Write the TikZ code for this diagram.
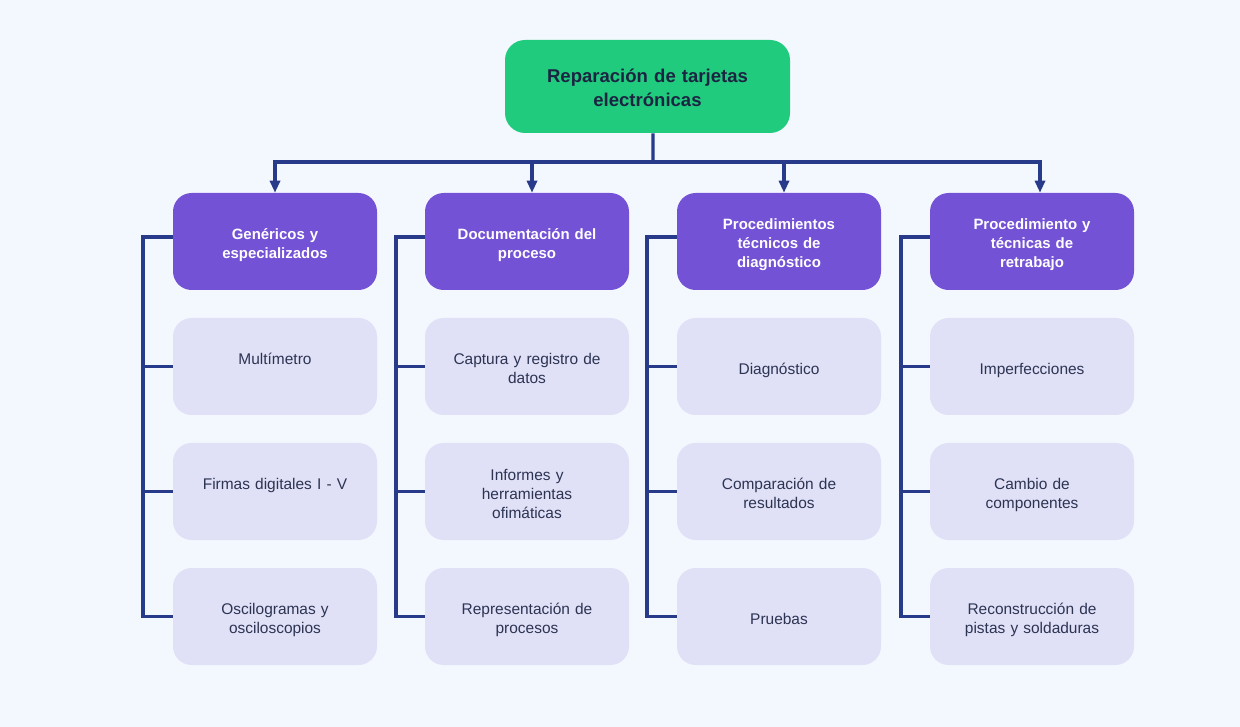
\documentclass[tikz,border=0pt]{standalone}
\usepackage{fontspec}
\setmainfont{Liberation Sans}
\usepackage{tikz}
\usetikzlibrary{arrows.meta, positioning}
\definecolor{bgcol}{HTML}{F3F7FE}
\definecolor{rootcol}{HTML}{21CB7E}
\definecolor{headcol}{HTML}{7452D6}
\definecolor{itemcol}{HTML}{E0E0F7}
\definecolor{linecol}{HTML}{283A8A}
\definecolor{darktext}{HTML}{1B2542}
\definecolor{itemtext}{HTML}{2C3452}

\begin{document}
\begin{tikzpicture}[x=0.75pt, y=-0.75pt,
  rootbox/.style={fill=rootcol, rounded corners=15pt, minimum width=213.75pt, minimum height=69.75pt,
    text width=200pt, align=center, text=darktext, font=\fontsize{13.9pt}{18pt}\selectfont\bfseries,
    execute at begin node={\rule{0pt}{15pt}}, execute at end node={\rule[-3.2pt]{0pt}{3.2pt}}},
  headbox/.style={fill=headcol, rounded corners=14pt, minimum width=153pt, minimum height=72.75pt,
    text width=140pt, align=center, text=white, font=\fontsize{11.2pt}{14.25pt}\selectfont\bfseries,
    execute at begin node={\rule{0pt}{13.5pt}}, execute at end node={\rule[-2.7pt]{0pt}{2.7pt}}},
  itembox/.style={fill=itemcol, rounded corners=14pt, minimum width=153pt, minimum height=72.75pt,
    text width=140pt, align=center, text=itemtext, font=\fontsize{11.6pt}{14.25pt}\selectfont,
    execute at begin node={\rule{0pt}{14.5pt}}, execute at end node={\rule[-2.7pt]{0pt}{2.7pt}}},
  conn/.style={draw=linecol, line width=2.4pt},
  arr/.style={conn, -{Triangle[length=9pt, width=7.5pt]}}]
\fill[bgcol] (0,0) rectangle (1240,727);
\useasboundingbox (0,0) rectangle (1240,727);

% root
\node[rootbox] at (647.5,86.5) (r) {Reparación de tarjetas\\electrónicas};

% headers
\node[headbox] at (275,241.5) (h1) {Genéricos y\\especializados};
\node[headbox] at (527,241.5) (h2) {Documentación del\\proceso};
\node[headbox] at (779,241.5) (h3) {Procedimientos\\técnicos de\\diagnóstico};
\node[headbox] at (1032,241.5) (h4) {Procedimiento y\\técnicas de\\retrabajo};

% column 1
\node[itembox] at (275,366.5) (c11) {Multímetro\\\mbox{}};
\node[itembox] at (275,491.5) (c12) {Firmas digitales I - V\\\mbox{}};
\node[itembox] at (275,616.5) (c13) {Oscilogramas y\\osciloscopios};

% column 2
\node[itembox] at (527,366.5) (c21) {Captura y registro de\\datos};
\node[itembox] at (527,491.5) (c22) {Informes y\\herramientas\\ofimáticas};
\node[itembox] at (527,616.5) (c23) {Representación de\\procesos};

% column 3
\node[itembox] at (779,366.5) (c31) {Diagnóstico};
\node[itembox] at (779,491.5) (c32) {Comparación de\\resultados};
\node[itembox] at (779,616.5) (c33) {Pruebas};

% column 4
\node[itembox] at (1032,366.5) (c41) {Imperfecciones};
\node[itembox] at (1032,491.5) (c42) {Cambio de\\componentes};
\node[itembox] at (1032,616.5) (c43) {Reconstrucción de\\pistas y soldaduras};

% trunk and arrows
\coordinate (t) at (653,162);
\draw[conn] ([xshift=4.1pt]r.south) -- (t);
\draw[arr] (t) -| (h1.north);
\draw[arr] (t) -| ([xshift=3.75pt]h2.north);
\draw[arr] (t) -| ([xshift=3.75pt]h3.north);
\draw[arr] (t) -| ([xshift=6pt]h4.north);

% spines
\coordinate (s1) at (143,237);
\coordinate (s2) at (396,237);
\coordinate (s3) at (647,237);
\coordinate (s4) at (901,237);

\draw[conn] (h1.west |- s1) -- (s1) |- (c13.west);
\draw[conn] (s1 |- c11) -- (c11.west);
\draw[conn] (s1 |- c12) -- (c12.west);

\draw[conn] (h2.west |- s2) -- (s2) |- (c23.west);
\draw[conn] (s2 |- c21) -- (c21.west);
\draw[conn] (s2 |- c22) -- (c22.west);

\draw[conn] (h3.west |- s3) -- (s3) |- (c33.west);
\draw[conn] (s3 |- c31) -- (c31.west);
\draw[conn] (s3 |- c32) -- (c32.west);

\draw[conn] (h4.west |- s4) -- (s4) |- (c43.west);
\draw[conn] (s4 |- c41) -- (c41.west);
\draw[conn] (s4 |- c42) -- (c42.west);
\end{tikzpicture}
\end{document}
